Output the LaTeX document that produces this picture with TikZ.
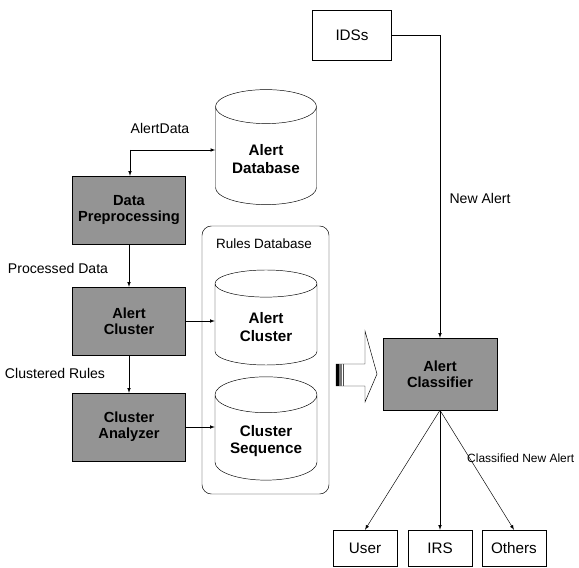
\documentclass[tikz,border=0pt]{standalone}
\usepackage{fontspec}
\setmainfont{Liberation Sans}
\usetikzlibrary{shapes.geometric, arrows, positioning, calc}

\begin{document}
\begin{tikzpicture}[x=0.03cm, y=-0.03cm]
    \tikzstyle{plain} = [rectangle, draw=black, fill=white, font=\fontsize{13}{15}\selectfont]
    \tikzstyle{process} = [rectangle, draw=black, fill=black!42, align=center, font=\fontsize{12.5}{14}\selectfont\bfseries, minimum width=3.39cm, minimum height=2.04cm]
    \tikzstyle{store} = [cylinder, shape border rotate=90, draw=black, fill=white, aspect=0.45, align=center, font=\fontsize{13}{15}\selectfont\bfseries]
    \tikzstyle{lbl} = [font=\fontsize{12}{14}\selectfont]
    \tikzstyle{arrow} = [->,>=latex]

    \useasboundingbox (0,0) rectangle (579,568);

    % sources and stores
    \node[plain, minimum width=2.37cm, minimum height=1.5cm] (ids) at (352,35) {IDSs};
    \node[store, minimum width=3.03cm, minimum height=3.45cm] (adb) at (266,159) {Alert\\Database};

    % left processing chain
    \node[process] (prep) at (129,210) {Data\\Preprocessing};
    \node[process] (clus) at (129,321) {Alert\\Cluster};
    \node[process] (seqa) at (129,427) {Cluster\\Analyzer};

    % rules database
    \draw[rounded corners=8] (202,226) rectangle (329,494);
    \node[font=\fontsize{11.5}{13}\selectfont] (rdb) at (264,244) {Rules Database};
    \node[store, minimum width=3.06cm, minimum height=2.85cm] (acl) at (266,327) {Alert\\Cluster};
    \node[store, minimum width=3.06cm, minimum height=3.1cm] (cseq) at (266,441) {Cluster\\Sequence};

    % hand-over arrow
    \draw[fill=white] (336,364) -- (365,364) -- (365,331) -- (377,374) -- (365,402) -- (365,386) -- (336,386) -- cycle;
    \fill[black] (336,364) rectangle (339,386);
    \fill[black!55] (339,364) rectangle (342,386);
    \draw[black!70] (343.5,364) -- (343.5,386);

    % classifier and its outputs
    \node[process, minimum width=3.42cm, minimum height=2.16cm] (cls) at (440,374) {Alert\\Classifier};
    \node[plain, minimum width=1.92cm, minimum height=1.08cm] (user) at (365,548) {User};
    \node[plain, minimum width=1.92cm, minimum height=1.08cm] (irs) at (440,548) {IRS};
    \node[plain, minimum width=1.92cm, minimum height=1.08cm] (others) at (514,548) {Others};

    \coordinate (split) at (130,150);
    \draw[arrow] (split) -- (adb.west |- split);
    \draw[arrow] (split) -- (prep.north -| split);
    \draw[arrow] (prep) -- (clus);
    \draw[arrow] (clus) -- (seqa);
    \draw[arrow] (clus.east) -- (acl.west |- clus.east);
    \draw[arrow] (seqa.east) -- (cseq.west |- seqa.east);
    \draw[arrow] (ids.east) -| (cls.north);
    \draw[arrow] (cls.south) -- (user.north);
    \draw[arrow] (cls.south) -- (irs.north);
    \draw[arrow] (cls.south) -- (others.north);

    \node[lbl] at (160,128) {AlertData};
    \node[lbl] at (58,268) {Processed Data};
    \node[lbl] at (55,373) {Clustered Rules};
    \node[lbl] at (480,198) {New Alert};
    \node[lbl, font=\fontsize{10.2}{12}\selectfont, anchor=west, inner xsep=0pt] at (467,458) {Classified New Alert};
\end{tikzpicture}
\end{document}
